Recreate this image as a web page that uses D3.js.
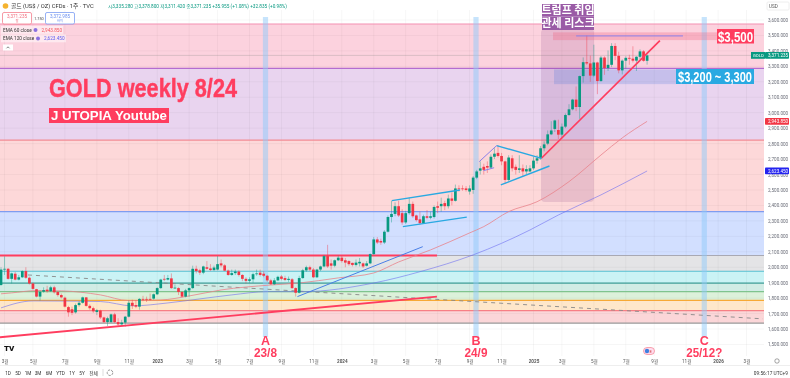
<!DOCTYPE html>
<html>
<head>
<meta charset="utf-8">
<script src="https://cdn.jsdelivr.net/npm/d3@7"></script>
<style>
  html, body { margin: 0; padding: 0; background: #fff; }
  svg { display: block; filter: blur(0.3px); }
  text { font-family: Roboto, 'Noto Sans CJK KR', sans-serif; }
  .kr { font-family: 'Noto Sans CJK KR', sans-serif; }
  .big { font-family: 'Liberation Sans', sans-serif; font-weight: 700; }
</style>
</head>
<body>
<div id="chart"></div>
<script>
// weekly candles, index 0 is the week of 2022-02-21
const opens = [
  1885,1985,1990,1925,1958,1920,1935,1975,1932,1895,
  1858,1810,1842,1855,1845,1870,1840,1820,1803,1742,
  1728,1708,1755,1770,1805,1750,1735,1710,1720,1675,
  1645,1645,1695,1645,1630,1642,1680,1770,1755,1745,
  1795,1795,1795,1797,1825,1865,1925,1920,1928,1865,
  1865,1840,1810,1850,1865,1990,1980,1965,2000,1992,
  1982,1985,2025,2012,1978,1950,1962,1972,1950,1925,
  1912,1922,1955,1965,1958,1945,1915,1890,1915,1940,
  1930,1918,1922,1865,1835,1930,1980,2000,1985,1935,
  1985,2005,2072,2025,2010,2045,2062,2045,2040,2028,
  2015,2025,2025,2010,2025,2085,2180,2170,2160,2230,
  2325,2345,2395,2350,2290,2350,2410,2335,2310,2285,
  2330,2320,2325,2395,2395,2415,2395,2445,2430,2510,
  2510,2510,2490,2500,2580,2625,2650,2655,2645,2715,
  2740,2720,2685,2565,2705,2650,2630,2640,2620,2620,
  2640,2690,2705,2770,2800,2860,2895,2888,2858,2910,
  2985,3022,3085,3037,3237,3327,3319,3240,3325,3205,
  3357,3289,3310,3432,3368,3274,3337,3355,3350,3337,
  3362,3397,3336];
const highs = [
  2000,2070,1995,1965,1970,1950,1980,2000,1940,1900,
  1860,1850,1870,1880,1880,1880,1845,1830,1810,1750,
  1745,1765,1780,1810,1807,1760,1745,1730,1725,1680,
  1680,1700,1705,1670,1660,1685,1785,1790,1785,1800,
  1815,1810,1830,1830,1870,1925,1950,1950,1960,1885,
  1870,1845,1860,1870,2010,2010,1990,2010,2040,2020,
  2010,2072,2050,2020,1985,1985,1985,1980,1955,1935,
  1935,1965,1985,1985,1975,1950,1925,1930,1945,1950,
  1945,1940,1930,1870,1945,1990,2010,2010,1995,1990,
  2010,2080,2145,2050,2050,2075,2075,2060,2045,2030,
  2050,2060,2030,2040,2090,2195,2195,2185,2240,2335,
  2430,2420,2430,2375,2365,2450,2425,2340,2360,2340,
  2370,2360,2400,2425,2450,2430,2470,2485,2535,2530,
  2530,2525,2530,2590,2630,2685,2670,2685,2730,2770,
  2790,2740,2690,2725,2725,2665,2725,2665,2660,2660,
  2715,2725,2785,2815,2885,2945,2955,2955,2930,2995,
  3055,3090,3170,3240,3358,3500,3370,3440,3330,3367,
  3365,3403,3450,3450,3395,3345,3365,3375,3430,3365,
  3410,3405,3378];
const lows = [
  1880,1950,1920,1895,1915,1915,1930,1925,1888,1855,
  1805,1785,1835,1835,1840,1830,1810,1798,1740,1680,
  1690,1700,1745,1765,1745,1725,1705,1690,1665,1640,
  1620,1640,1640,1620,1625,1615,1675,1730,1735,1725,
  1780,1775,1785,1790,1820,1860,1910,1915,1860,1860,
  1820,1805,1805,1810,1860,1960,1950,1955,1985,1975,
  1975,1980,2000,1975,1945,1945,1950,1940,1910,1895,
  1900,1900,1945,1940,1935,1905,1885,1885,1910,1915,
  1910,1905,1860,1810,1830,1925,1970,1975,1930,1930,
  1975,2000,1995,1985,2000,2040,2030,2000,2010,2005,
  2005,2005,1995,2005,2020,2080,2150,2145,2150,2225,
  2290,2330,2325,2275,2280,2340,2320,2295,2275,2285,
  2310,2310,2315,2350,2360,2370,2380,2400,2425,2490,
  2495,2490,2470,2475,2570,2600,2600,2610,2640,2700,
  2710,2660,2540,2555,2620,2600,2610,2590,2600,2615,
  2630,2670,2695,2750,2790,2855,2875,2830,2835,2900,
  2980,3015,3010,2960,3195,3310,3200,3230,3120,3200,
  3245,3270,3295,3340,3255,3248,3285,3310,3325,3270,
  3345,3330,3311];
const closes = [
  1985,1990,1925,1960,1920,1935,1975,1932,1895,1860,
  1810,1840,1852,1845,1870,1838,1820,1805,1745,1708,
  1705,1755,1770,1805,1750,1735,1715,1722,1675,1645,
  1670,1695,1645,1630,1642,1680,1770,1750,1745,1795,
  1790,1790,1792,1825,1865,1920,1920,1930,1865,1868,
  1840,1810,1850,1865,1990,1975,1965,2005,1990,1982,
  1998,2020,2012,1978,1950,1962,1972,1950,1925,1912,
  1922,1955,1960,1950,1945,1915,1890,1915,1938,1925,
  1918,1925,1865,1835,1930,1980,2000,1985,1935,1985,
  2005,2072,2005,2010,2045,2062,2040,2030,2020,2015,
  2030,2035,2005,2025,2085,2180,2160,2160,2230,2325,
  2345,2395,2335,2290,2350,2410,2330,2305,2285,2330,
  2320,2330,2390,2385,2410,2395,2445,2430,2510,2505,
  2505,2500,2510,2580,2620,2640,2630,2645,2715,2735,
  2720,2685,2565,2710,2640,2630,2640,2620,2635,2640,
  2690,2705,2770,2795,2860,2885,2950,2858,2910,2985,
  3022,3085,3037,3237,3327,3319,3240,3325,3205,3357,
  3289,3310,3432,3368,3274,3337,3355,3350,3337,3362,
  3397,3336,3371];

const ema60Weeks = [0,3,10,17,28,36,45,53,62,76,84,95,105,112,121,132,136,143,151,160,169,175,182];
const ema60Values = [1828,1834,1849,1847,1821,1784,1788,1814,1853,1885,1898,1931,1963,2034,2112,2222,2263,2360,2424,2554,2726,2837,2944];
const ema120Weeks = [0,9,28,37,47,56,65,75,85,105,118,133,149,157,169,182];
const ema120Values = [1737,1782,1778,1750,1769,1795,1821,1842,1842,1898,1971,2080,2241,2338,2468,2623];

const priceTicks = [3600,3500,3400,3300,3200,3100,3000,2900,2800,2700,2600,2500,2400,2300,2200,2100,2000,1900,1800,1700,1600,1500];
const timeTickWeeks = [1,9,18,27,36,44,53,61,70,79,88,96,105,114,123,132,141,150,158,167,176,184,193,202,210];
const timeTickLabels = ['3월','5월','7월','9월','11월','2023','3월','5월','7월','9월','11월','2024','3월','5월','7월','9월','11월','2025','3월','5월','7월','9월','11월','2026','3월'];

const levels = [3574,3287,2823,2360,2076,1974,1897,1842,1786,1719,1638];
const levelFills = ['#fcd2de','#e9d4ef','#fdd8d9','#d2dfff','#e4e4e6','#caf3f5','#d1ece5','#dcf1da','#fee7ca','#fbd6d8'];
const levelColors = ['#f48fb1','#b46cd0','#f28b94','#7f9cf0','#a9a9b3','#55bfd0','#3f9f98','#7fc48e','#f7a935','#f77f85','#9a9a9a'];

const cycleLabels = ['A','B','C'];
const cycleDates = ['23/8','24/9','25/12?'];
const cycleWeeks = [74.5,133.8,198.1];

const mainTrend = [[152.3,2707],[185.6,3466]];
const longTrend = [[-0.3,1547],[122.8,1810]];
const blueTrend = [[83.5,1810],[118.8,2133]];
const cyanTrends = [
  [[110.1,2431],[129.3,2500]],
  [[113.2,2263],[131.2,2324]],
  [[139.6,2787],[152.3,2705]],
  [[140.8,2533],[154.5,2655]],
];
const purpleTrends = [
  [[134.7,2683],[139.6,2787]],
  [[135.9,2625],[138.9,2644]],
  [[162,3497],[192.1,3497]],
];
const dashedTrend = [[7.6,1950],[214.6,1666]];

const width = 790;
const height = 378;
const paneRight = 764;
const green = '#089981';
const red = '#f23645';
const hot = '#ff3d5f';
const sky = '#29a9e2';

const x = d3.scaleLinear().domain([0, 210]).range([1, 746.5]);
const y = d3.scaleLinear().domain([3600, 1500]).range([20, 344.5]);

const svg = d3.select('#chart').append('svg')
  .attr('width', width)
  .attr('height', height);

svg.append('defs').append('clipPath').attr('id', 'pane')
  .append('rect').attr('width', paneRight).attr('height', 345);

// background bands between the horizontal levels
svg.append('g').selectAll('rect')
  .data(levelFills)
  .join('rect')
  .attr('x', 0)
  .attr('width', paneRight)
  .attr('y', (d, i) => y(levels[i]))
  .attr('height', (d, i) => y(levels[i + 1]) - y(levels[i]))
  .attr('fill', (d) => d);

// grid
const grid = svg.append('g').attr('stroke', '#000').attr('stroke-opacity', 0.035);
grid.selectAll('.h').data(priceTicks).join('line')
  .attr('class', 'h')
  .attr('x1', 0).attr('x2', paneRight)
  .attr('y1', (d) => y(d)).attr('y2', (d) => y(d));
grid.selectAll('.v').data(timeTickWeeks).join('line')
  .attr('class', 'v')
  .attr('x1', (d) => x(d)).attr('x2', (d) => x(d))
  .attr('y1', 10).attr('y2', 356);

svg.append('g').selectAll('line')
  .data(levels)
  .join('line')
  .attr('x1', 0).attr('x2', paneRight)
  .attr('y1', (d) => y(d)).attr('y2', (d) => y(d))
  .attr('stroke', (d, i) => levelColors[i])
  .attr('stroke-width', 1.2);

// red overlay on the 2,076 level
svg.append('line')
  .attr('x1', 0).attr('x2', 437)
  .attr('y1', y(levels[4])).attr('y2', y(levels[4]))
  .attr('stroke', hot).attr('stroke-width', 1.8);

// last price line
svg.append('line')
  .attr('x1', 0).attr('x2', paneRight)
  .attr('y1', y(closes[closes.length - 1])).attr('y2', y(closes[closes.length - 1]))
  .attr('stroke', '#888').attr('stroke-opacity', 0.3);

// vertical cycle bands
svg.append('g').selectAll('rect')
  .data(cycleWeeks)
  .join('rect')
  .attr('x', (d) => x(d) - 2.6)
  .attr('width', 5.2)
  .attr('y', 17)
  .attr('height', 320)
  .attr('fill', '#90caf9')
  .attr('fill-opacity', 0.5);

// zones
svg.append('rect')
  .attr('x', 541).attr('y', 29).attr('width', 53).attr('height', 173).attr('rx', 4)
  .attr('fill', '#7a2e7a').attr('fill-opacity', 0.15);
svg.append('rect')
  .attr('x', 553).attr('width', 164).attr('y', y(3520)).attr('height', y(3470) - y(3520))
  .attr('fill', '#f0607f').attr('fill-opacity', 0.3);
svg.append('rect')
  .attr('x', 554).attr('width', 122).attr('y', y(3280)).attr('height', y(3185) - y(3280))
  .attr('fill', '#3c6edc').attr('fill-opacity', 0.2);

const weekLine = d3.line().x((d) => x(d[0])).y((d) => y(d[1]));
const drawTrend = (points, color, w) => svg.append('path')
  .attr('d', weekLine(points))
  .attr('fill', 'none')
  .attr('stroke', color)
  .attr('stroke-width', w)
  .attr('clip-path', 'url(#pane)');

drawTrend(dashedTrend, '#888', 0.9).attr('stroke-dasharray', '4 4');

// moving averages
const smooth = d3.line().curve(d3.curveMonotoneX).x((d) => x(d[0])).y((d) => y(d[1]));
svg.append('path')
  .attr('d', smooth(d3.zip(ema60Weeks, ema60Values)))
  .attr('fill', 'none').attr('stroke', '#e8838b').attr('stroke-width', 0.8);
svg.append('path')
  .attr('d', smooth(d3.zip(ema120Weeks, ema120Values)))
  .attr('fill', 'none').attr('stroke', '#6f6ff0').attr('stroke-opacity', 0.75).attr('stroke-width', 0.8);

// candles
const candles = svg.append('g').selectAll('g')
  .data(closes)
  .join('g')
  .attr('fill', (d, i) => (d >= opens[i] ? green : red))
  .attr('stroke', (d, i) => (d >= opens[i] ? green : red));
candles.append('line')
  .attr('x1', (d, i) => x(i)).attr('x2', (d, i) => x(i))
  .attr('y1', (d, i) => y(highs[i])).attr('y2', (d, i) => y(lows[i]))
  .attr('stroke-opacity', 0.45)
  .attr('stroke-width', 0.9);
candles.append('rect')
  .attr('x', (d, i) => x(i) - 1.35)
  .attr('width', 2.7)
  .attr('y', (d, i) => y(Math.max(d, opens[i])))
  .attr('height', (d, i) => Math.max(0.8, Math.abs(y(d) - y(opens[i]))))
  .attr('stroke', 'none');

drawTrend(longTrend, hot, 1.9);
drawTrend(mainTrend, hot, 1.7);
drawTrend(blueTrend, '#4a7fe6', 1);
cyanTrends.forEach((d) => drawTrend(d, sky, 1.4));
purpleTrends.forEach((d) => drawTrend(d, '#8a80ea', 1));

// annotations
svg.append('text').attr('class', 'big')
  .attr('x', 49).attr('y', 97).attr('font-size', 26).attr('fill', hot)
  .attr('stroke', hot).attr('stroke-width', 0.4)
  .attr('textLength', 188).attr('lengthAdjust', 'spacingAndGlyphs')
  .text('GOLD weekly 8/24');

function tag(txt, x0, y0, w, h, fill, size, textW, cls) {
  svg.append('rect').attr('x', x0).attr('y', y0).attr('width', w).attr('height', h).attr('fill', fill);
  const t = svg.append('text').attr('class', cls || 'big')
    .attr('x', x0 + w / 2).attr('y', y0 + h / 2)
    .attr('dy', '0.36em')
    .attr('text-anchor', 'middle')
    .attr('font-size', size)
    .attr('font-weight', 700)
    .attr('fill', '#fff')
    .text(txt);
  if (textW) t.attr('textLength', textW).attr('lengthAdjust', 'spacingAndGlyphs');
}
tag('J UTOPIA Youtube', 49, 108, 120, 15, hot, 13, 116);
tag('$3,500', 717, 29, 37, 14.5, hot, 15, 35);
tag('$3,200 ~ 3,300', 676, 69, 78, 15, sky, 15, 74);
tag('트럼프 취임', 542, 4, 52, 12.5, '#9a5ba6', 11, 0, 'kr');
tag('관세 리스크', 542, 16.5, 52, 13.5, '#9a5ba6', 11, 0, 'kr');

const cycles = svg.append('g').attr('fill', hot).attr('text-anchor', 'middle');
cycles.selectAll('.l').data(cycleLabels).join('text')
  .attr('class', 'big l')
  .attr('x', (d, i) => x(cycleWeeks[i]))
  .attr('y', 345)
  .attr('font-size', 12.5)
  .text((d) => d);
cycles.selectAll('.d').data(cycleDates).join('text')
  .attr('class', 'big d')
  .attr('x', (d, i) => x(cycleWeeks[i]))
  .attr('y', 357)
  .attr('font-size', 12.5)
  .attr('textLength', (d) => (d.length > 4 ? 36 : 23))
  .attr('lengthAdjust', 'spacingAndGlyphs')
  .text((d) => d);

// axes
const yAxis = d3.axisRight(y)
  .tickValues(priceTicks)
  .tickSize(0)
  .tickPadding(0)
  .tickFormat(d3.format(',.3f'));
const yAxisG = svg.append('g').attr('transform', 'translate(768,0)').call(yAxis);
yAxisG.select('.domain').remove();
yAxisG.selectAll('text').attr('font-size', 4.6).attr('fill', '#6a6d78');

const xAxis = d3.axisBottom(x)
  .tickValues(timeTickWeeks)
  .tickSize(0)
  .tickPadding(0)
  .tickFormat((d, i) => timeTickLabels[i]);
const xAxisG = svg.append('g').attr('transform', 'translate(0,359.7)').call(xAxis);
xAxisG.select('.domain').remove();
xAxisG.selectAll('text')
  .attr('font-size', 4.6)
  .attr('fill', '#555')
  .attr('font-weight', (d, i) => (timeTickLabels[i].length === 4 ? 700 : 400));

function priceTag(value, fill) {
  svg.append('rect').attr('x', 765).attr('y', y(value) - 3.4).attr('width', 24).attr('height', 6.8).attr('rx', 0.8).attr('fill', fill);
  svg.append('text').attr('x', 768).attr('y', y(value)).attr('dy', '0.36em')
    .attr('font-size', 4.6).attr('fill', '#fff').text(d3.format(',.3f')(value));
}
svg.append('rect').attr('x', 751).attr('y', y(3371) - 3.4).attr('width', 14).attr('height', 6.8).attr('fill', green);
svg.append('text').attr('x', 753).attr('y', y(3371)).attr('dy', '0.36em').attr('font-size', 4.2).attr('fill', '#fff').text('GOLD');
priceTag(3371.235, green);
priceTag(2943.85, red);
priceTag(2623.45, '#2424f0');

// header
svg.append('circle').attr('cx', 5.5).attr('cy', 6).attr('r', 2.8).attr('fill', '#f5b32e');
svg.append('text').attr('x', 11).attr('y', 8).attr('font-size', 5.8).attr('fill', '#333')
  .text('골드 (US$ / OZ) CFDs · 1주 · TVC');
svg.append('text').attr('x', 108).attr('y', 7.8).attr('font-size', 4.7).attr('fill', green)
  .text('시3,335.280  고3,378.800  저3,311.420  종3,371.235  +35.955 (+1.08%)  +32.835 (+0.98%)');

function quote(x0, txt, sub, color) {
  svg.append('rect').attr('x', x0).attr('y', 12.5).attr('width', 29).attr('height', 11.5).attr('rx', 1.5)
    .attr('fill', '#fff').attr('stroke', color).attr('stroke-width', 0.7);
  svg.append('text').attr('x', x0 + 14.5).attr('y', 17.5).attr('text-anchor', 'middle')
    .attr('font-size', 4.6).attr('fill', color).text(txt);
  svg.append('text').attr('x', x0 + 14.5).attr('y', 22.3).attr('text-anchor', 'middle')
    .attr('font-size', 3.4).attr('fill', color).text(sub);
}
quote(2.5, '3,371.235', '팔', '#f2707f');
quote(45.5, '3,372.985', '바이', '#6a8ff0');
svg.append('text').attr('x', 39).attr('y', 19.5).attr('text-anchor', 'middle').attr('font-size', 3.8).attr('fill', '#444').text('1.750');

function legendRow(yy, w, name, value, color) {
  svg.append('rect').attr('x', 1).attr('y', yy - 4).attr('width', w).attr('height', 7.8).attr('fill', '#fff').attr('fill-opacity', 0.5);
  svg.append('text').attr('x', 3).attr('y', yy + 1.7).attr('font-size', 4.7).attr('fill', '#333').text(name);
  svg.append('circle').attr('cx', name.length > 12 ? 38 : 35.5).attr('cy', yy).attr('r', 2).attr('fill', '#8a6fe0');
  svg.append('text').attr('x', name.length > 12 ? 44 : 41.5).attr('y', yy + 1.7).attr('font-size', 4.7).attr('fill', color).text(value);
}
legendRow(30, 62, 'EMA 60 close', '2,943.850', '#f2555f');
legendRow(38.5, 65, 'EMA 120 close', '2,623.450', '#5b5bf0');
svg.append('rect').attr('x', 3).attr('y', 44.5).attr('width', 10).attr('height', 6).attr('fill', '#fff');
svg.append('path').attr('d', 'M6.5,48.3L8,46.8L9.5,48.3').attr('fill', 'none').attr('stroke', '#333').attr('stroke-width', 0.6);

// right top selector
svg.append('rect').attr('x', 767).attr('y', 2).attr('width', 22).attr('height', 8).attr('rx', 1).attr('fill', '#fff').attr('stroke', '#eee');
svg.append('text').attr('x', 769).attr('y', 7.6).attr('font-size', 4.6).attr('fill', '#555').text('USD');

// bottom toolbar
svg.append('line').attr('x1', 0).attr('x2', width).attr('y1', 365.5).attr('y2', 365.5).attr('stroke', '#eee');
const ranges = ['1D','5D','1M','3M','6M','YTD','1Y','5Y','전체'];
const rangeX = [8,18,28,38,49,60.5,72,82,93.5];
svg.append('g').selectAll('text').data(ranges).join('text')
  .attr('x', (d, i) => rangeX[i])
  .attr('y', 374.5)
  .attr('text-anchor', 'middle')
  .attr('font-size', 4.7)
  .attr('fill', '#333')
  .text((d) => d);
svg.append('line').attr('x1', 103).attr('x2', 103).attr('y1', 369).attr('y2', 376).attr('stroke', '#ddd');
svg.append('circle').attr('cx', 110).attr('cy', 372.7).attr('r', 2.8).attr('fill', 'none').attr('stroke', '#555').attr('stroke-width', 0.6).attr('stroke-dasharray', '2.5 1');
svg.append('text').attr('x', 788).attr('y', 374.5).attr('text-anchor', 'end').attr('font-size', 4.8).attr('fill', '#333').text('09:56:17 UTC+9');
svg.append('circle').attr('cx', 777).attr('cy', 361).attr('r', 2.2).attr('fill', 'none').attr('stroke', '#666').attr('stroke-width', 0.6);

// logo and earnings marker
svg.append('text').attr('x', 4).attr('y', 350.5).attr('font-size', 8).attr('font-weight', 900).attr('fill', '#111').text('TV');
svg.append('rect').attr('x', 643.5).attr('y', 347.5).attr('width', 11).attr('height', 7).attr('rx', 3.5).attr('fill', '#fde').attr('stroke', '#f2707f').attr('stroke-width', 0.6);
svg.append('circle').attr('cx', 647).attr('cy', 351).attr('r', 2.2).attr('fill', '#3f7fe0');
svg.append('text').attr('x', 649.5).attr('y', 352.5).attr('font-size', 4).attr('fill', '#c33').text('E');
</script>
</body>
</html>
